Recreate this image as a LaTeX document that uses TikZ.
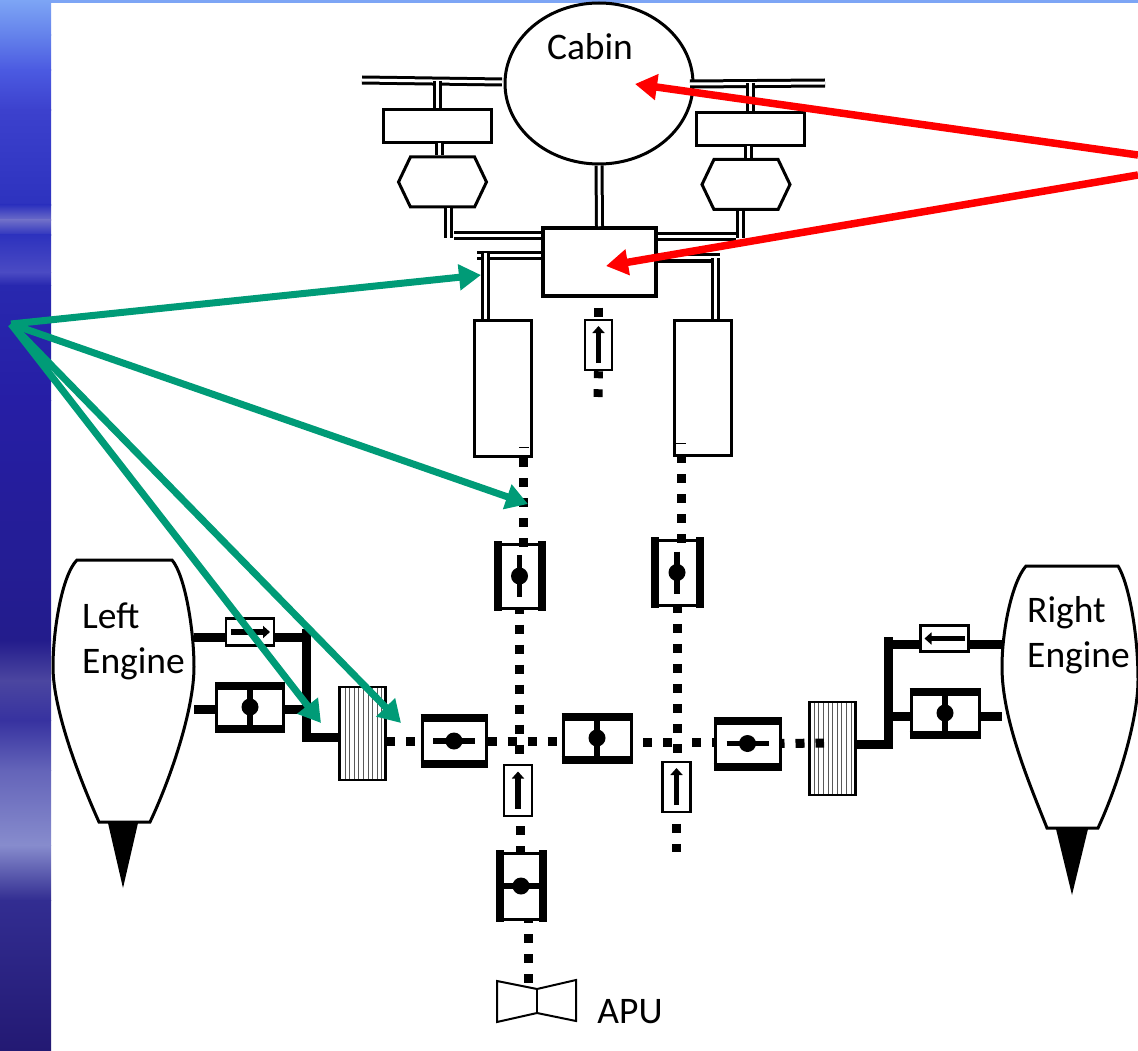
\documentclass[tikz,border=0pt]{standalone}
\usepackage{fontspec}
\setmainfont{Carlito}
\usepackage{tikz}
\usetikzlibrary{arrows.meta,shapes.geometric,shapes.symbols,patterns.meta}

\definecolor{band0}{RGB}{125,165,245}
\definecolor{band1}{RGB}{100,130,235}
\definecolor{band2}{RGB}{75,90,225}
\definecolor{band3}{RGB}{60,65,205}
\definecolor{band4}{RGB}{45,50,190}
\definecolor{band5}{RGB}{110,110,200}
\definecolor{band6}{RGB}{75,75,195}
\definecolor{band7}{RGB}{40,40,175}
\definecolor{band8}{RGB}{38,30,165}
\definecolor{band9}{RGB}{35,28,140}
\definecolor{band10}{RGB}{75,70,160}
\definecolor{band11}{RGB}{55,50,160}
\definecolor{band12}{RGB}{100,100,185}
\definecolor{band13}{RGB}{135,140,205}
\definecolor{band14}{RGB}{50,45,145}
\definecolor{band15}{RGB}{35,25,115}
\definecolor{greenarrow}{RGB}{0,155,119}

\begin{document}
\begin{tikzpicture}[
    x=1pt,
    y=-1pt,
    box/.style={draw, fill=white, line width=3pt, inner sep=0pt},
    hexa/.style={draw, fill=white, line width=3pt, inner sep=0pt, signal, signal to=west and east, signal pointer angle=129, minimum width=88pt, minimum height=50pt},
    valvebox/.style={draw, fill=white, line width=3pt, inner sep=0pt},
    ckbox/.style={draw, fill=white, line width=2.5pt, inner sep=0pt},
    hatch/.style={draw, line width=2.5pt, inner sep=0pt, minimum width=46pt, minimum height=93pt, preaction={fill=white}, pattern={Lines[angle=90, distance=4.6pt, line width=1pt]}, pattern color=black!65},
    lbl/.style={inner sep=0pt, font=\fontsize{37.5}{45}\selectfont, align=left},
    dbl/.style={double, line width=3pt, double distance=3pt},
    pipe/.style={line width=9pt},
    bleed/.style={line width=9pt, dash pattern=on 9pt off 11pt},
    vbar/.style={line width=8pt},
    stem/.style={line width=5.5pt},
    ckarrow/.style={line width=5.5pt, -{Triangle[length=7pt,width=12pt]}},
    redarrow/.style={red, line width=7.5pt, -{Triangle[length=22pt,width=25pt]}},
    grnarrow/.style={greenarrow, line width=7pt, -{Triangle[length=22pt,width=25pt]}}
  ]
    \useasboundingbox (0,0) rectangle (1138,1051);

    % -- background --
    \fill[band0] (0,0) rectangle (1138,3);
    \foreach \ya/\yb/\ca/\cb in {0/35/0/1, 35/70/1/2, 70/110/2/3, 110/205/3/4, 205/220/4/5, 220/235/5/4, 235/272/4/6, 272/285/6/7, 285/400/7/8, 400/640/8/9, 640/680/9/10, 680/720/10/11, 720/770/11/12, 770/845/12/13, 845/900/13/14, 900/1051/14/15}
      \shade[top color=band\ca, bottom color=band\cb] (0,\ya) rectangle (51,\yb+0.5);

    % -- cabin side, double lines --
    \coordinate (tL1) at (362,80);
    \coordinate (tL2) at (437,81);
    \coordinate (tL3) at (502,82);
    \coordinate (tR1) at (825,83);
    \coordinate (tR2) at (750,83);
    \coordinate (tR3) at (690,84);
    \coordinate (cL1) at (439,143);
    \coordinate (cR1) at (748,146);
    \coordinate (hL1) at (448,238);
    \coordinate (hL2) at (454,236);
    \coordinate (hR1) at (740,238);
    \coordinate (hR2) at (736,237);
    \coordinate (dL0) at (485,253);
    \coordinate (dL1) at (477,256);
    \coordinate (dR0) at (715,258);
    \coordinate (dR1) at (720,258);

    \node[draw, fill=white, line width=3pt, ellipse, inner sep=0pt, minimum width=188pt, minimum height=161pt] (cab) at (599,83.5) {};
    \node[box, minimum width=108pt, minimum height=33pt] (coolL) at (437,126.5) {};
    \node[box, minimum width=108pt, minimum height=33pt] (coolR) at (750,129.5) {};
    \node[hexa] (hexL) at (442.5,182) {};
    \node[hexa] (hexR) at (746,184.5) {};
    \node[box, line width=3.5pt, minimum width=113pt, minimum height=68pt] (mix) at (599.5,262) {};
    \node[box, minimum width=57pt, minimum height=136pt] (ductL) at (502.5,388) {};
    \node[box, minimum width=57pt, minimum height=135pt] (ductR) at (703,387.5) {};

    \draw[dbl] (tL1) -- (tL3);
    \draw[dbl] (tR3) -- (tR1);
    \draw[dbl] (tL2) -- (tL2 |- coolL.north);
    \draw[dbl] (tR2) -- (tR2 |- coolR.north);
    \draw[dbl] (cL1) -- (cL1 |- hexL.north);
    \draw[dbl] (cR1) -- (cR1 |- hexR.north);
    \draw[dbl] (hL1 |- hexL.south) -- (hL1);
    \draw[dbl] (hR1 |- hexR.south) -- (hR1);
    \draw[dbl] (hL2) -- (hL2 -| mix.west);
    \draw[dbl] (hR2 -| mix.east) -- (hR2);
    \draw[dbl] (cab.south) -- (mix.north);
    \draw[dbl] (dL1) -- (dL1 -| mix.west);
    \draw[dbl] (dR1 -| mix.east) -- (dR1);
    \draw[dbl] (dL0) -- (dL0 |- ductL.north);
    \draw[dbl] (dR0) -- (dR0 |- ductR.north);
    \draw[line width=1pt] (519,447) -- (529,447);
    \draw[line width=1pt] (676,443) -- (686,443);

    % -- left engine --
    \draw[fill=white, line width=3pt] (77,560) .. controls (62,575) and (53,630) .. (53,667)
        .. controls (53,710) and (80,780) .. (99,822) -- (150,822)
        .. controls (170,780) and (194,710) .. (194,667)
        .. controls (194,630) and (185,575) .. (172,560) -- cycle;
    \fill (108,823) -- (138,823) -- (123,888) -- cycle;
    \node[lbl, anchor=north west] (txtL) at (82,603) {Left\\Engine};

    % -- right engine --
    \draw[fill=white, line width=3pt] (1026,566) .. controls (1012,582) and (1002,630) .. (1002,667)
        .. controls (1002,720) and (1030,785) .. (1047,828) -- (1098,828)
        .. controls (1118,785) and (1138,720) .. (1138,680)
        .. controls (1138,630) and (1128,582) .. (1118,566) -- cycle;
    \fill (1056,829) -- (1088,829) -- (1072,895) -- cycle;
    \node[lbl, anchor=north west] (txtR) at (1027,596) {Right\\Engine};

    \node[lbl] (txtC) at (590,47) {Cabin};

    % -- engine pipes --
    \coordinate (eLu) at (194,637);
    \coordinate (eLv) at (194,709.5);
    \coordinate (jLt) at (306.5,629);
    \coordinate (jLb) at (306.5,742);
    \coordinate (jLh) at (302,737.5);
    \coordinate (eRu) at (1002,644.5);
    \coordinate (eRv) at (1002,716);
    \coordinate (jRt) at (888,637);
    \coordinate (jRb) at (888,749);
    \coordinate (jRh) at (893,744);

    \node[valvebox, minimum width=67pt, minimum height=40pt] (vEL) at (250,707) {};
    \node[valvebox, minimum width=68pt, minimum height=40pt] (vER) at (945,713) {};
    \node[ckbox, minimum width=48pt, minimum height=27pt] (ckEL) at (250,632) {};
    \node[ckbox, minimum width=48pt, minimum height=26pt] (ckER) at (944.5,638.5) {};
    \node[hatch] (hatL) at (362.5,733.5) {};
    \node[hatch] (hatR) at (832.5,748.5) {};

    \draw[pipe] (eLu) -- (eLu -| ckEL.west);
    \draw[pipe] (ckEL.east |- eLu) -- (eLu -| jLt);
    \draw[pipe] (eLv) -- (eLv -| vEL.west);
    \draw[pipe] (eLv -| vEL.east) -- (eLv -| jLt);
    \draw[pipe] (jLt) -- (jLb);
    \draw[pipe] (jLh) -- (jLh -| hatL.west);
    \draw[pipe] (eRu) -- (eRu -| ckER.east);
    \draw[pipe] (ckER.west |- eRu) -- (eRu -| jRt);
    \draw[pipe] (eRv) -- (eRv -| vER.east);
    \draw[pipe] (eRv -| vER.west) -- (eRv -| jRt);
    \draw[pipe] (jRt) -- (jRb);
    \draw[pipe] (jRh) -- (jRh -| hatR.east);

    % -- valves --
    \node[valvebox, minimum width=41pt, minimum height=64pt] (vDL) at (519.5,576) {};
    \node[valvebox, minimum width=42pt, minimum height=65pt] (vDR) at (677,572.5) {};
    \node[valvebox, minimum width=64pt, minimum height=43pt] (vXL) at (454,741) {};
    \node[valvebox, minimum width=68pt, minimum height=40pt] (vMD) at (597,738) {};
    \node[valvebox, minimum width=65pt, minimum height=43pt] (vXR) at (747.5,743.5) {};
    \node[valvebox, minimum width=40pt, minimum height=66pt] (vAP) at (521,886) {};

    \foreach \v in {vEL,vER,vXL,vMD,vXR} {
      \draw[vbar] (\v.north west) -- (\v.north east);
      \draw[vbar] (\v.south west) -- (\v.south east);
    }
    \foreach \v in {vDL,vDR,vAP} {
      \draw[vbar] ([yshift=1.2pt]\v.north west) -- ([yshift=-1.2pt]\v.south west);
      \draw[vbar] ([yshift=1.2pt]\v.north east) -- ([yshift=-1.2pt]\v.south east);
    }
    \foreach \v in {vEL,vER,vMD} {
      \draw[stem] (\v.north) -- (\v.south);
      \fill (\v) circle (8.5);
    }
    \foreach \v in {vDL,vDR} {
      \draw[stem] ([yshift=21pt]\v.center) -- ([yshift=-21pt]\v.center);
      \fill (\v) circle (8.5);
    }
    \foreach \v in {vXL,vXR} {
      \draw[stem] ([xshift=-21pt]\v.center) -- ([xshift=21pt]\v.center);
      \fill (\v) circle (8.5);
    }
    \draw[stem] (vAP.west) -- (vAP.east);
    \fill (vAP) circle (8.5);

    % -- check valves --
    \node[ckbox, minimum width=27pt, minimum height=50pt] (ckM) at (598.5,345) {};
    \node[ckbox, minimum width=28pt, minimum height=51pt] (ckL) at (518,790.5) {};
    \node[ckbox, minimum width=28pt, minimum height=50pt] (ckR) at (676.5,787) {};
    \draw[ckarrow] ([xshift=-19pt]ckEL.center) -- ([xshift=20pt]ckEL.center);
    \draw[ckarrow] ([xshift=20pt]ckER.center) -- ([xshift=-20pt]ckER.center);
    \foreach \c in {ckM,ckL,ckR}
      \draw[ckarrow] ([yshift=-18pt]\c.center) -- ([yshift=19pt]\c.center);

    % -- dotted lines --
    \coordinate (dLa) at (523,458);
    \coordinate (dLb) at (520,816);
    \coordinate (dRa) at (681,454);
    \coordinate (dRb) at (676.5,852);
    \coordinate (dMa) at (598,307.5);
    \coordinate (dMb) at (598,397);
    \coordinate (dHa) at (643,742);
    \coordinate (dHb) at (824,743);
    \coordinate (dAa) at (528,919);
    \coordinate (dAb) at (528,985);

    \draw[bleed] (dLa) -- ([yshift=-4pt]dLa |- vDL.north);
    \draw[bleed, dash phase=5pt] (vDL.south) -- (vDL.south |- ckL.north);
    \draw[bleed, dash phase=10pt] (dLb) -- (dLb |- vAP.north);
    \draw[bleed, dash phase=5pt] (dAa) -- (dAb);
    \draw[bleed] (dMa) -- (dMa |- ckM.north);
    \draw[bleed, dash phase=2pt] (ckM.south) -- (dMb);
    \draw[bleed] (dRa) -- ([yshift=-4pt]dRa |- vDR.north);
    \draw[bleed, dash phase=2.5pt] (vDR.south) -- (vDR.south |- ckR.north);
    \draw[bleed, dash phase=9.5pt] (ckR.south) -- (dRb);
    \draw[bleed] (hatL.east |- vXL.west) -- (vXL.west);
    \draw[bleed] (vXL.east) -- (vXL.east -| vMD.west);
    \draw[bleed, dash pattern=on 9pt off 11pt on 9pt off 20pt] (dHa) -- (dHa -| vXR.west);
    \draw[bleed, dash phase=6pt] (vXR.east) -- (dHb);

    % -- APU --
    \draw[line width=2pt] (537,989) -- (497,981) -- (497,1022) -- (537,1013) -- (576,1021) -- (576,980) -- cycle;
    \draw[line width=2pt] (537,989) -- (537,1013);
    \node[lbl] (txtA) at (630,1012) {APU};

    % -- red arrows --
    \coordinate (rS1) at (1138,155);
    \coordinate (rS2) at (1138,175);
    \coordinate (rE1) at (635,84);
    \coordinate (rE2) at (606,266);
    \draw[redarrow] (rS1) -- (rE1);
    \draw[redarrow] (rS2) -- (rE2);

    % -- green arrows --
    \coordinate (gS) at (11,324);
    \coordinate (gE1) at (481,275);
    \coordinate (gE2) at (528,504);
    \coordinate (gE3) at (321,723);
    \coordinate (gE4) at (401,723);
    \foreach \e in {gE1,gE2,gE3,gE4}
      \draw[grnarrow] (gS) -- (\e);
  \end{tikzpicture}
\end{document}
